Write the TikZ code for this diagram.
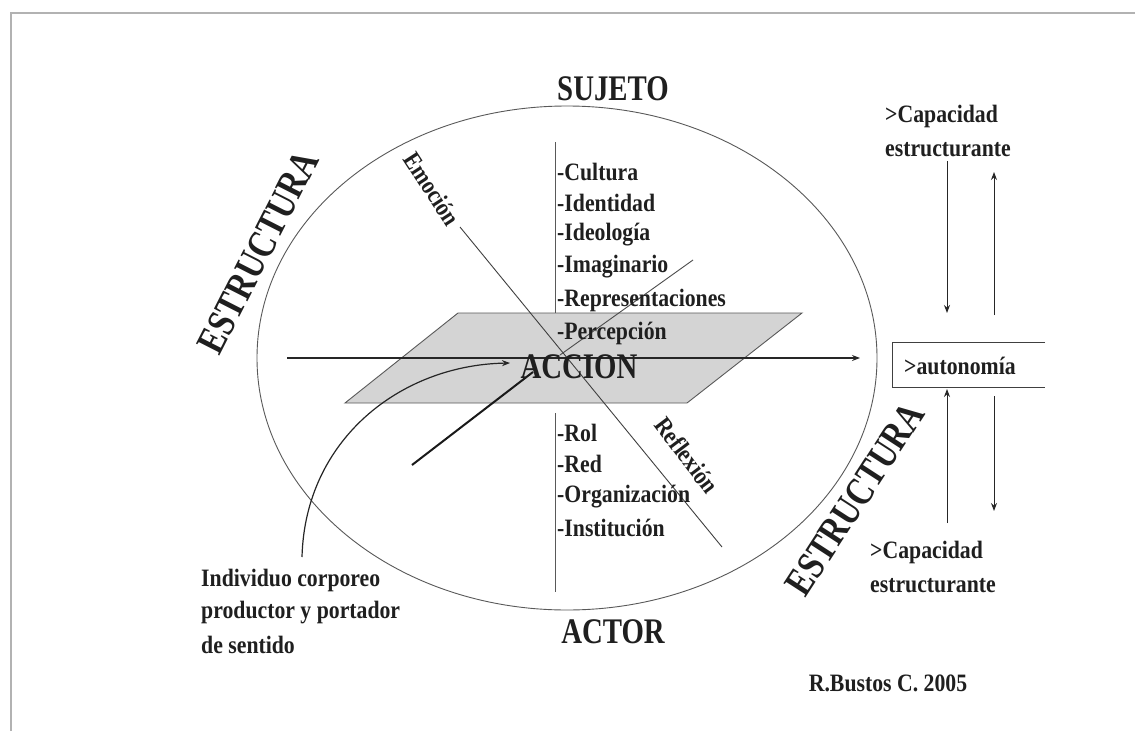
\documentclass[tikz,border=0pt]{standalone}
\usepackage{fontspec}
\setmainfont{Liberation Serif}[FakeStretch=0.87]
\newfontfamily\bigfont{Liberation Serif}[FakeStretch=0.8]
\usetikzlibrary{arrows.meta}
\begin{document}
\begin{tikzpicture}[x=1pt,y=-1pt,
  txt/.style={font=\bfseries\fontsize{25}{29}\selectfont, text=black!88, inner sep=0pt},
  big/.style={font=\bigfont\bfseries\fontsize{36}{40}\selectfont, text=black!88, inner sep=0pt},
  huge/.style={font=\bigfont\bfseries\fontsize{40}{44}\selectfont, text=black!88, inner sep=0pt},
  thinline/.style={draw=black!65, line width=0.9pt},
  arr/.style={draw=black!85, line width=1.2pt, -{Stealth[length=8pt,width=6pt]}},
]
\useasboundingbox (0,0) rectangle (1135,731);
\fill[white] (0,0) rectangle (1135,731);
\draw[black!30, line width=2pt] (11,731) -- (11,13) -- (1135,13);

% ellipse
\draw[thinline] (567,358) ellipse [x radius=310pt, y radius=252pt];

% plane
\coordinate (p1) at (345,403);
\coordinate (p2) at (687,403);
\coordinate (p3) at (802,313);
\coordinate (p4) at (458,313);
\filldraw[fill=black!17, draw=black!65, line width=0.9pt] (p1) -- (p2) -- (p3) -- (p4) -- cycle;

% vertical axis
\coordinate (v1) at (555,142);
\coordinate (v2) at (555,313);
\coordinate (v3) at (555,413);
\coordinate (v4) at (555,592);
\draw[thinline] (v1) -- (v2);
\draw[thinline] (v3) -- (v4);

% emocion / reflexion diagonal
\coordinate (e1) at (460,227);
\coordinate (e2) at (722,547);
\draw[draw=black!75, line width=0.9pt] (e1) -- (e2);

% depth axis
\coordinate (d1) at (412,465);
\coordinate (d2) at (533,372);
\coordinate (d3) at (560,355);
\coordinate (d4) at (693,260);
\draw[draw=black!70, line width=0.9pt] (d3) -- (d4);
\draw[draw=black!90, line width=2pt] (d1) -- (d2);

% horizontal arrow
\coordinate (h1) at (287,358);
\coordinate (h2) at (860,358);
\draw[arr] (h1) -- (h2);

% labels
\node[big] (suj) at (613,89) {SUJETO};
\node[big] (act) at (613,632) {ACTOR};
\node[big] (acc) at (579,367) {ACCION};
\node[huge, rotate=63] (est1) at (258,252) {ESTRUCTURA};
\node[huge, rotate=57] (est2) at (855,499) {ESTRUCTURA};
\node[txt, rotate=-57] (emo) at (432,189) {Emoción};
\node[txt, rotate=-53] (ref) at (687,455) {Reflexión};

\node[txt, anchor=west] (l1) at (557,172) {-Cultura};
\node[txt, anchor=west] (l2) at (557,203) {-Identidad};
\node[txt, anchor=west] (l3) at (557,235) {-Ideología};
\node[txt, anchor=west] (l4) at (557,267) {-Imaginario};
\node[txt, anchor=west] (l5) at (557,300) {-Representaciones};
\node[txt, anchor=west] (l6) at (557,333) {-Percepción};

\node[txt, anchor=west] (m1) at (557,433) {-Rol};
\node[txt, anchor=west] (m2) at (557,464) {-Red};
\node[txt, anchor=west] (m3) at (557,497) {-Organización};
\node[txt, anchor=west] (m4) at (557,528) {-Institución};

\node[txt, anchor=west] (i1) at (201,580) {Individuo corporeo};
\node[txt, anchor=west] (i2) at (201,613) {productor y portador};
\node[txt, anchor=west] (i3) at (201,645) {de sentido};

% curved arrow
\coordinate (cs) at (302,557);
\coordinate (ct) at (510,363);
\draw[arr] (cs) .. controls (305,440) and (400,365) .. (ct);

% right side
\node[txt, anchor=west] (c1) at (885,116) {>Capacidad};
\node[txt, anchor=west] (c2) at (885,150) {estructurante};
\node[txt, anchor=west] (c3) at (870,552) {>Capacidad};
\node[txt, anchor=west] (c4) at (870,586) {estructurante};
\node[txt, anchor=west] (auto) at (904,366) {>autonomía};
\draw[draw=black!75, line width=1pt] (1045,342) -- (892,342) -- (892,387) -- (1045,387);

\coordinate (a1) at (947,161);
\coordinate (a2) at (947,313);
\coordinate (a3) at (994,315);
\coordinate (a4) at (994,172);
\coordinate (b1) at (947,523);
\coordinate (b2) at (947,389);
\coordinate (b3) at (994,396);
\coordinate (b4) at (994,511);
\draw[arr, line width=1pt] (a1) -- (a2);
\draw[arr, line width=1pt] (a3) -- (a4);
\draw[arr, line width=1pt] (b1) -- (b2);
\draw[arr, line width=1pt] (b3) -- (b4);

\node[txt] (rb) at (888,683) {R.Bustos C. 2005};
\end{tikzpicture}
\end{document}
